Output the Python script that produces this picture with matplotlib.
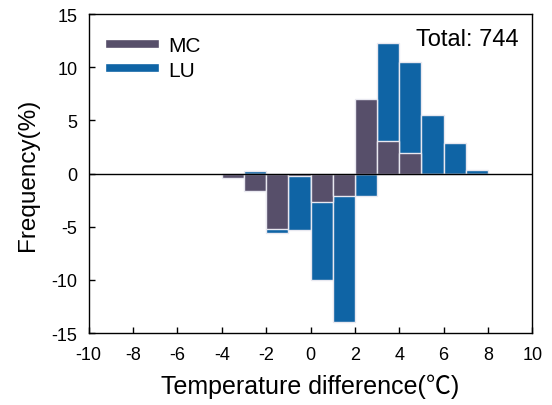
import matplotlib
matplotlib.use('Agg')
import matplotlib.pyplot as plt
from matplotlib.lines import Line2D
import numpy as np

# bin left edges (width 1) and frequencies (%)
bin_left = [-4, -3, -2, -1, 0, 1, 2, 3, 4, 5, 6, 7]
mc_freq = [-0.38, -1.6, -5.24, -0.23, -2.67, -2.16, 7.05, 3.1, 1.9, 0, 0, 0]
lu_freq = [0, 0.19, -5.6, -5.33, -10.04, -13.99, -2.1, 12.3, 10.5, 5.54, 2.9, 0.34]
total_n = 744

C_MC = "#574F6A"
C_LU = "#0F64A5"

plt.rcParams['font.family'] = ['Liberation Sans', 'DejaVu Sans']
plt.rcParams['axes.unicode_minus'] = False
LABEL_FONT = ['Liberation Sans', 'Noto Sans CJK SC']

fig = plt.figure(figsize=(5.52, 4.06), dpi=100)
ax = fig.add_axes([0.1607, 0.1773, 0.8036, 0.7857])

ax.bar(bin_left, lu_freq, width=1, align='edge', color=C_LU,
       edgecolor='#E8E8F0', linewidth=1, zorder=2)
ax.bar(bin_left, mc_freq, width=1, align='edge', color=C_MC,
       edgecolor='#E8E8F0', linewidth=1, zorder=3)
ax.axhline(0, color='black', linewidth=1, zorder=4)

ax.set_xlim(-10, 10)
ax.set_ylim(-15, 15)
ax.set_xticks(np.arange(-10, 11, 2))
ax.set_yticks(np.arange(-15, 16, 5))
ax.tick_params(direction='in', labelsize=13, length=4, width=1)
ax.tick_params(axis='x', pad=9)
ax.tick_params(axis='y', pad=8)
for s in ax.spines.values():
    s.set_linewidth(1)

ax.set_xlabel('Temperature difference(℃)', fontsize=18, labelpad=8,
              family=LABEL_FONT)
ax.set_ylabel('Frequency(%)', fontsize=17.5, labelpad=9, family=LABEL_FONT)

ax.text(0.97, 0.955, f'Total: {total_n}', transform=ax.transAxes,
        ha='right', va='top', fontsize=17)

handles = [Line2D([0], [0], color=C_MC, lw=5.5),
           Line2D([0], [0], color=C_LU, lw=5.5)]
ax.legend(handles, ['MC', 'LU'], loc='upper left', bbox_to_anchor=(0.0, 0.995),
          frameon=False, fontsize=15, handlelength=2.2, handletextpad=0.6,
          labelspacing=0.25, borderaxespad=0.6)

plt.savefig('out.png', dpi=100)
plt.close()
